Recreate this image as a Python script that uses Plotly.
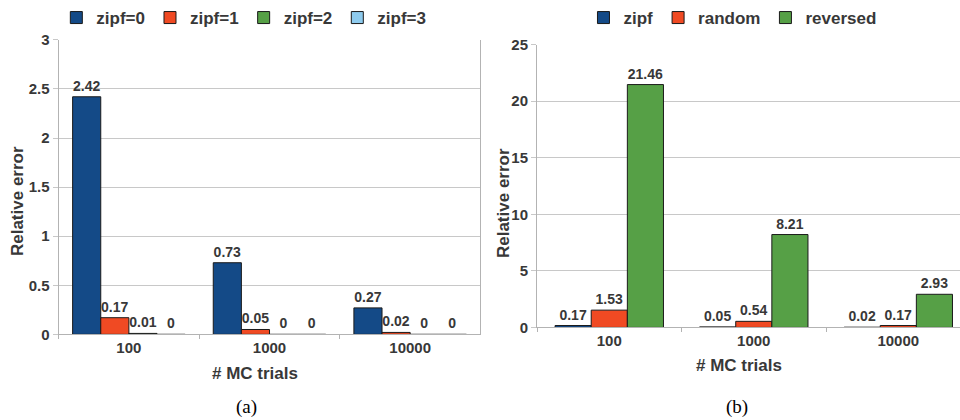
import plotly.graph_objects as go

# ---- data ----
categories = ["100", "1000", "10000"]

left_series = ["zipf=0", "zipf=1", "zipf=2", "zipf=3"]
left_values = [
    [2.42, 0.73, 0.27],
    [0.17, 0.05, 0.02],
    [0.01, 0.00, 0.00],
    [0.00, 0.00, 0.00],
]
left_labels = [
    ["2.42", "0.73", "0.27"],
    ["0.17", "0.05", "0.02"],
    ["0.01", "0", "0"],
    ["0", "0", "0"],
]

right_series = ["zipf", "random", "reversed"]
right_values = [
    [0.17, 0.05, 0.02],
    [1.53, 0.54, 0.17],
    [21.46, 8.21, 2.93],
]
right_labels = [
    ["0.17", "0.05", "0.02"],
    ["1.53", "0.54", "0.17"],
    ["21.46", "8.21", "2.93"],
]

left_yticks = [0, 0.5, 1, 1.5, 2, 2.5, 3]
right_yticks = [0, 5, 10, 15, 20, 25]

# ---- styles ----
colors = ["#144a87", "#f04a23", "#56a046", "#8ecbee"]
TXT = "#383838"
FONT = "Liberation Sans"
GRID = "#c8c8c8"
AXL = "#b3b3b3"

fig = go.Figure()

lw = 0.2
loffs = [-0.4, -0.2, 0.0, 0.2]
for i, name in enumerate(left_series):
    fig.add_trace(go.Bar(
        x=categories, y=left_values[i], name=name,
        text=left_labels[i], textposition="outside", cliponaxis=False,
        texttemplate="%{text}",
        textfont=dict(family=FONT, size=14, color=TXT, weight="bold"),
        marker=dict(color=colors[i], line=dict(color="#1a1a1a", width=1)),
        width=lw, offset=loffs[i],
        xaxis="x", yaxis="y", legend="legend",
    ))

rw = 0.25
roffs = [-0.375, -0.125, 0.125]
for i, name in enumerate(right_series):
    fig.add_trace(go.Bar(
        x=categories, y=right_values[i], name=name,
        text=right_labels[i], textposition="outside", cliponaxis=False,
        texttemplate="%{text}",
        textfont=dict(family=FONT, size=14, color=TXT, weight="bold"),
        marker=dict(color=colors[i], line=dict(color="#1a1a1a", width=1)),
        width=rw, offset=roffs[i],
        xaxis="x2", yaxis="y2", legend="legend2",
    ))

tickfont = dict(family=FONT, size=15, color=TXT, weight="bold")

xcommon = dict(type="category", showgrid=False, showline=True, linecolor=AXL,
               linewidth=1, ticks="outside", tickson="boundaries", ticklen=4,
               tickcolor=AXL, tickfont=tickfont, automargin=False)
ycommon = dict(showgrid=True, gridcolor=GRID, gridwidth=1, showline=True,
               linecolor=AXL, linewidth=1, ticks="outside", ticklen=5,
               tickcolor=GRID, tickfont=tickfont, zeroline=False,
               automargin=False)

legfont = dict(family=FONT, size=17, color=TXT, weight="bold")

fig.update_layout(
    width=960, height=420,
    margin=dict(l=0, r=0, t=0, b=0),
    paper_bgcolor="white", plot_bgcolor="white",
    barmode="group",
    showlegend=True,
    xaxis=dict(domain=[0.061, 0.5005], range=[-0.5, 2.5], anchor="y", **xcommon),
    yaxis=dict(domain=[0.2048, 0.9095], range=[0, 3], tickvals=left_yticks,
               anchor="x", mirror=True, **ycommon),
    xaxis2=dict(domain=[0.5594, 1.0], range=[-0.5, 2.427], anchor="y2", **xcommon),
    yaxis2=dict(domain=[0.2214, 0.8983], range=[0, 25], tickvals=right_yticks,
                anchor="x2", **ycommon),
    legend=dict(orientation="h", x=0.254, xanchor="center", y=0.962, yanchor="middle",
                font=legfont, itemwidth=30, tracegroupgap=0),
    legend2=dict(orientation="h", x=0.763, xanchor="center", y=0.962, yanchor="middle",
                 font=legfont, itemwidth=30, tracegroupgap=0),
)

titlefont = dict(family=FONT, size=17, color=TXT, weight="bold")
capfont = dict(family="Liberation Serif", size=19, color="#000000")
ann = [
    dict(text="Relative error", x=17/960, y=1-200/420, textangle=-90, font=titlefont),
    dict(text="Relative error", x=503/960, y=1-202/420, textangle=-90, font=titlefont),
    dict(text="# MC trials", x=255/960, y=1-373/420, font=titlefont),
    dict(text="# MC trials", x=739/960, y=1-365/420, font=titlefont),
    dict(text="(a)", x=247/960, y=1-407/420, font=capfont),
    dict(text="(b)", x=737/960, y=1-407/420, font=capfont),
]
for a in ann:
    fig.add_annotation(xref="paper", yref="paper", showarrow=False,
                       xanchor="center", yanchor="middle", **a)

fig.write_html("out.html")
